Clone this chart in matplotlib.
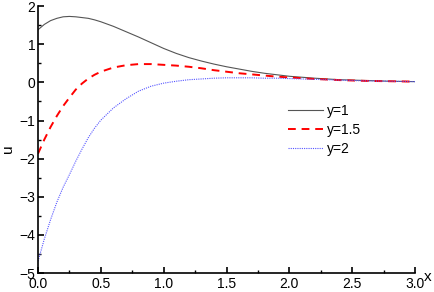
import matplotlib
matplotlib.use("Agg")
import matplotlib.pyplot as plt
from matplotlib.ticker import MultipleLocator

plt.rcParams['font.family'] = ['Liberation Sans', 'DejaVu Sans']

# values
x = [0.0, 0.05, 0.1, 0.15, 0.2, 0.25, 0.3, 0.35, 0.4, 0.45, 0.5, 0.6, 0.7, 0.8, 0.9,
     1.0, 1.1, 1.2, 1.3, 1.4, 1.5, 1.6, 1.7, 1.8, 1.9, 2.0, 2.2, 2.4, 2.6, 2.8, 3.0]
u_y1 = [1.38, 1.52, 1.62, 1.68, 1.72, 1.73, 1.72, 1.70, 1.68, 1.64, 1.59, 1.47, 1.33, 1.19, 1.04,
        0.89, 0.76, 0.65, 0.56, 0.48, 0.41, 0.35, 0.29, 0.24, 0.20, 0.16, 0.11, 0.07, 0.05, 0.03, 0.02]
u_y15 = [-1.87, -1.50, -1.17, -0.88, -0.62, -0.40, -0.19, -0.03, 0.10, 0.20, 0.28, 0.39, 0.45, 0.48, 0.48,
         0.46, 0.44, 0.41, 0.37, 0.32, 0.28, 0.24, 0.21, 0.18, 0.15, 0.13, 0.09, 0.06, 0.04, 0.03, 0.02]
u_y2 = [-4.69, -4.11, -3.60, -3.14, -2.75, -2.42, -2.07, -1.75, -1.45, -1.20, -0.99, -0.67, -0.43, -0.23, -0.10,
        -0.02, 0.03, 0.07, 0.09, 0.11, 0.12, 0.12, 0.12, 0.11, 0.11, 0.10, 0.08, 0.06, 0.04, 0.03, 0.02]
labels = ['y=1', 'y=1.5', 'y=2']

fig = plt.figure(figsize=(4.34, 2.92), dpi=100)
ax = fig.add_axes([0.0876, 0.065, 0.8686, 0.914])

ax.plot(x, u_y1, color='#555555', lw=0.8, label=labels[0])
ax.plot(x, u_y15, color='red', lw=1.4, ls=(0, (4, 3)), label=labels[1])
ax.plot(x, u_y2, color='#5555ff', lw=0.8, ls=(0, (1, 1)), label=labels[2])

ax.set_xlim(0, 3.0)
ax.set_ylim(-5, 2)
ax.xaxis.set_major_locator(MultipleLocator(0.5))
ax.xaxis.set_minor_locator(MultipleLocator(0.25))
ax.yaxis.set_major_locator(MultipleLocator(1))
ax.yaxis.set_minor_locator(MultipleLocator(0.5))
ax.set_xticklabels([f'{v:.1f}' for v in ax.get_xticks()])

for s in ['top', 'right']:
    ax.spines[s].set_visible(False)
for s in ['left', 'bottom']:
    ax.spines[s].set_linewidth(1.2)
ax.tick_params(which='major', direction='in', length=4, width=1.2, labelsize=10, pad=2)
ax.tick_params(axis='x', which='major', pad=3)
ax.tick_params(which='minor', direction='in', length=2, width=1)

fig.text(0.985, 0.05, 'x', fontsize=11, ha='center', va='center')
fig.text(0.018, 0.49, 'u', fontsize=11, ha='center', va='center', rotation=90)

ax.legend(loc='upper left', bbox_to_anchor=(0.645, 0.658), frameon=False, fontsize=10,
          handlelength=2.5, handletextpad=0.3, labelspacing=0.35, borderpad=0)

fig.savefig('out.png', dpi=100)
